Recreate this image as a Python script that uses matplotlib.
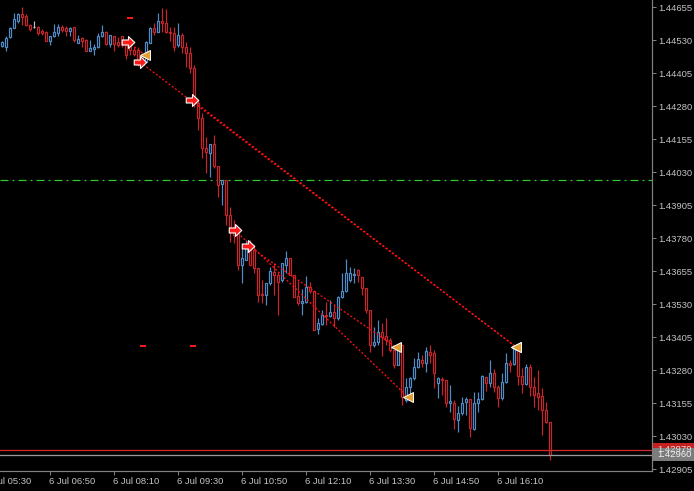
import matplotlib
matplotlib.use('Agg')
import matplotlib.pyplot as plt
from matplotlib.patches import Rectangle
from matplotlib.path import Path
import matplotlib.transforms as mtransforms

plt.rcParams['lines.scale_dashes'] = False

# ---- data (5-minute bars, 6 Jul, 05:50 .. 17:15) ----
open_ = [1.44509, 1.44505, 1.44543, 1.44577, 1.44603, 1.44630, 1.44622, 1.44588, 1.44581, 1.44581,
         1.44566, 1.44562, 1.44528, 1.44547, 1.44558, 1.44581, 1.44577, 1.44566, 1.44581, 1.44520,
         1.44539, 1.44531, 1.44490, 1.44497, 1.44505, 1.44547, 1.44562, 1.44516, 1.44547, 1.44524,
         1.44547, 1.44512, 1.44509, 1.44493, 1.44493, 1.44478, 1.44448, 1.44520, 1.44577, 1.44562,
         1.44603, 1.44596, 1.44562, 1.44558, 1.44512, 1.44550, 1.44505, 1.44482, 1.44425, 1.44293,
         1.44236, 1.44122, 1.44103, 1.44137, 1.44054, 1.43986, 1.44001, 1.43868, 1.43823, 1.43804,
         1.43679, 1.43698, 1.43747, 1.43735, 1.43667, 1.43569, 1.43565, 1.43610, 1.43652, 1.43641,
         1.43622, 1.43679, 1.43705, 1.43641, 1.43561, 1.43535, 1.43538, 1.43595, 1.43580, 1.43436,
         1.43455, 1.43489, 1.43485, 1.43501, 1.43478, 1.43557, 1.43580, 1.43622, 1.43641, 1.43660,
         1.43633, 1.43591, 1.43508, 1.43375, 1.43387, 1.43425, 1.43410, 1.43394, 1.43356, 1.43300,
         1.43375, 1.43167, 1.43216, 1.43250, 1.43292, 1.43319, 1.43307, 1.43349, 1.43345, 1.43231,
         1.43247, 1.43243, 1.43156, 1.43156, 1.43091, 1.43118, 1.43159, 1.43171, 1.43057, 1.43156,
         1.43171, 1.43254, 1.43231, 1.43269, 1.43216, 1.43175, 1.43235, 1.43307, 1.43303, 1.43356,
         1.43258, 1.43228, 1.43292, 1.43216, 1.43194, 1.43182, 1.43129, 1.43084]
high = [1.44528, 1.44547, 1.44581, 1.44634, 1.44634, 1.44656, 1.44630, 1.44592, 1.44603, 1.44584,
        1.44573, 1.44566, 1.44547, 1.44592, 1.44592, 1.44588, 1.44584, 1.44581, 1.44581, 1.44550,
        1.44543, 1.44535, 1.44531, 1.44516, 1.44558, 1.44588, 1.44566, 1.44550, 1.44547, 1.44543,
        1.44547, 1.44516, 1.44516, 1.44505, 1.44505, 1.44482, 1.44528, 1.44581, 1.44596, 1.44634,
        1.44653, 1.44649, 1.44581, 1.44581, 1.44596, 1.44558, 1.44524, 1.44505, 1.44437, 1.44304,
        1.44255, 1.44164, 1.44137, 1.44171, 1.44054, 1.44001, 1.44001, 1.43898, 1.43849, 1.43811,
        1.43739, 1.43773, 1.43773, 1.43754, 1.43667, 1.43622, 1.43610, 1.43671, 1.43686, 1.43652,
        1.43686, 1.43732, 1.43705, 1.43641, 1.43622, 1.43588, 1.43637, 1.43614, 1.43580, 1.43478,
        1.43508, 1.43538, 1.43546, 1.43527, 1.43561, 1.43648, 1.43701, 1.43671, 1.43667, 1.43663,
        1.43633, 1.43591, 1.43508, 1.43444, 1.43470, 1.43459, 1.43478, 1.43402, 1.43356, 1.43375,
        1.43375, 1.43250, 1.43254, 1.43326, 1.43349, 1.43338, 1.43368, 1.43375, 1.43356, 1.43254,
        1.43254, 1.43243, 1.43224, 1.43167, 1.43144, 1.43178, 1.43178, 1.43171, 1.43197, 1.43197,
        1.43262, 1.43254, 1.43319, 1.43284, 1.43224, 1.43269, 1.43345, 1.43319, 1.43368, 1.43356,
        1.43288, 1.43303, 1.43303, 1.43254, 1.43281, 1.43212, 1.43159, 1.43084]
low = [1.44505, 1.44490, 1.44539, 1.44577, 1.44596, 1.44588, 1.44584, 1.44566, 1.44577, 1.44550,
       1.44550, 1.44528, 1.44512, 1.44543, 1.44547, 1.44562, 1.44547, 1.44547, 1.44524, 1.44520,
       1.44505, 1.44490, 1.44490, 1.44475, 1.44501, 1.44543, 1.44512, 1.44505, 1.44490, 1.44505,
       1.44505, 1.44459, 1.44475, 1.44471, 1.44433, 1.44433, 1.44448, 1.44520, 1.44550, 1.44562,
       1.44562, 1.44558, 1.44528, 1.44490, 1.44505, 1.44482, 1.44429, 1.44406, 1.44277, 1.44190,
       1.44084, 1.44027, 1.44012, 1.44046, 1.43936, 1.43906, 1.43830, 1.43766, 1.43762, 1.43660,
       1.43610, 1.43698, 1.43679, 1.43648, 1.43538, 1.43535, 1.43527, 1.43603, 1.43565, 1.43489,
       1.43614, 1.43648, 1.43641, 1.43557, 1.43527, 1.43489, 1.43535, 1.43573, 1.43432, 1.43417,
       1.43451, 1.43451, 1.43482, 1.43444, 1.43470, 1.43554, 1.43576, 1.43614, 1.43610, 1.43614,
       1.43565, 1.43497, 1.43349, 1.43368, 1.43375, 1.43334, 1.43375, 1.43349, 1.43288, 1.43300,
       1.43148, 1.43159, 1.43175, 1.43243, 1.43288, 1.43292, 1.43273, 1.43307, 1.43212, 1.43175,
       1.43186, 1.43140, 1.43122, 1.43057, 1.43046, 1.43110, 1.43110, 1.43027, 1.43053, 1.43122,
       1.43167, 1.43201, 1.43216, 1.43197, 1.43140, 1.43167, 1.43231, 1.43273, 1.43300, 1.43224,
       1.43194, 1.43224, 1.43182, 1.43140, 1.43129, 1.43034, 1.43080, 1.42940]
close = [1.44524, 1.44539, 1.44577, 1.44611, 1.44630, 1.44619, 1.44588, 1.44573, 1.44581, 1.44558,
         1.44558, 1.44528, 1.44547, 1.44562, 1.44581, 1.44569, 1.44566, 1.44577, 1.44531, 1.44535,
         1.44528, 1.44490, 1.44501, 1.44505, 1.44547, 1.44562, 1.44516, 1.44550, 1.44516, 1.44512,
         1.44512, 1.44475, 1.44493, 1.44478, 1.44448, 1.44448, 1.44524, 1.44577, 1.44562, 1.44603,
         1.44596, 1.44562, 1.44558, 1.44505, 1.44550, 1.44505, 1.44482, 1.44425, 1.44304, 1.44236,
         1.44122, 1.44107, 1.44137, 1.44054, 1.43982, 1.44001, 1.43868, 1.43823, 1.43792, 1.43679,
         1.43705, 1.43743, 1.43679, 1.43667, 1.43565, 1.43565, 1.43610, 1.43656, 1.43641, 1.43614,
         1.43686, 1.43705, 1.43641, 1.43557, 1.43535, 1.43542, 1.43595, 1.43580, 1.43432, 1.43459,
         1.43489, 1.43485, 1.43501, 1.43478, 1.43557, 1.43580, 1.43648, 1.43648, 1.43645, 1.43641,
         1.43591, 1.43508, 1.43375, 1.43387, 1.43425, 1.43406, 1.43394, 1.43356, 1.43300, 1.43375,
         1.43178, 1.43216, 1.43250, 1.43292, 1.43322, 1.43307, 1.43353, 1.43338, 1.43269, 1.43250,
         1.43243, 1.43156, 1.43163, 1.43095, 1.43118, 1.43156, 1.43171, 1.43061, 1.43156, 1.43171,
         1.43258, 1.43231, 1.43269, 1.43216, 1.43175, 1.43235, 1.43307, 1.43300, 1.43360, 1.43258,
         1.43228, 1.43292, 1.43216, 1.43186, 1.43178, 1.43129, 1.43084, 1.42960]

time_tick_bars = [-4, 12, 28, 44, 60, 76, 92, 108, 124]
time_tick_labels = ['6 Jul 05:30', '6 Jul 06:50', '6 Jul 08:10', '6 Jul 09:30', '6 Jul 10:50',
                    '6 Jul 12:10', '6 Jul 13:30', '6 Jul 14:50', '6 Jul 16:10']
price_ticks = [1.44655, 1.44530, 1.44405, 1.44280, 1.44155, 1.44030, 1.43905, 1.43780,
               1.43655, 1.43530, 1.43405, 1.43280, 1.43155, 1.43030, 1.42905]

green_level = 1.44000
ask_price = 1.42979
bid_price = 1.42960

entry_bars = [31.5, 34.5, 47.5, 58.25, 61.5]
entry_prices = [1.44524, 1.44448, 1.44304, 1.43811, 1.43751]
exit_bars = [35.75, 128.5, 128.5, 101.5, 98.5]
exit_prices = [1.44475, 1.43368, 1.43368, 1.43178, 1.43368]
mark_bars = [32, 35.25, 47.75]
mark_prices = [1.44615, 1.43372, 1.43372]

# ---- styling ----
W, H, DPI = 694, 491, 100
BG = 'black'
BULL = '#4F8CC8'
BEAR = '#C8262A'
DOJI = '#C0C0C0'
AXC = '#808080'
TXT = '#C4C4C4'
FONT = 'Liberation Sans'
FS = 6.8
PX = 72.0 / DPI

fig = plt.figure(figsize=(W / DPI, H / DPI), dpi=DPI, facecolor=BG)
ax_l, ax_b, ax_w, ax_h = 0, 20.5, 652, 470.5
ax = fig.add_axes([ax_l / W, ax_b / H, ax_w / W, ax_h / H], facecolor=BG)
ymin, ymax = 1.42900, 1.44683
ax.set_xlim(-0.5, 162.5)
ax.set_ylim(ymin, ymax)

# green level line (dash-dot)
ax.axhline(green_level, color='#2ECC2E', lw=1.2 * PX, dashes=(8 * PX, 4 * PX, 2 * PX, 4 * PX), zorder=1)

# candles
for i, (o, h, l, c) in enumerate(zip(open_, high, low, close)):
    col = BULL if c > o else (BEAR if c < o else DOJI)
    ax.vlines(i, l, h, color=col, lw=1.2 * PX, zorder=2)
    if c == o:
        ax.hlines(o, i - 0.3, i + 0.3, color=col, lw=1.2 * PX, zorder=3)
    else:
        ax.add_patch(Rectangle((i - 0.25, min(o, c)), 0.5, abs(c - o), facecolor=BG,
                               edgecolor=col, lw=1.2 * PX, zorder=3))

# ask / bid lines
ax.axhline(ask_price, color='#D42A2A', lw=1.3 * PX, zorder=4)
ax.axhline(bid_price, color='#9A9A9A', lw=1.3 * PX, zorder=4)

# trade lines
for xb, yb, xe, ye in zip(entry_bars, entry_prices, exit_bars, exit_prices):
    ax.plot([xb, xe], [yb, ye], color='#FF1010', lw=1.3 * PX, linestyle=(0, (2 * PX, 2 * PX)), zorder=5)

# entry arrows
arrow = Path([(-1, -0.4), (0.0, -0.4), (0.0, -0.95), (1, 0), (0.0, 0.95), (0.0, 0.4),
              (-1, 0.4), (-1, -0.4)],
             [Path.MOVETO] + [Path.LINETO] * 6 + [Path.CLOSEPOLY])
ax.plot(entry_bars, entry_prices, linestyle='none', marker=arrow, markersize=9,
        markerfacecolor='#FF1A1A', markeredgecolor='white', markeredgewidth=0.8, zorder=7)
# exit triangles
ax.plot(exit_bars, exit_prices, linestyle='none', marker='<', markersize=7,
        markerfacecolor='#E0A030', markeredgecolor='white', markeredgewidth=0.7, zorder=7)
# small markers
ax.plot(mark_bars, mark_prices, linestyle='none', marker='_', markersize=5,
        markeredgecolor='#FF1A1A', markeredgewidth=1.4, zorder=6)

# axes frame
for s in ['left', 'top']:
    ax.spines[s].set_visible(False)
for s in ['right', 'bottom']:
    ax.spines[s].set_color(AXC)
    ax.spines[s].set_linewidth(1.2 * PX)

ax.yaxis.tick_right()
ax.set_yticks(price_ticks)
ax.set_yticklabels([f'{p:.5f}' for p in price_ticks], fontfamily=FONT)
ax.tick_params(axis='y', length=3.5 * PX, width=1 * PX, color=AXC, labelcolor=TXT,
               labelsize=FS, pad=3 * PX)

in_range = [b for b in time_tick_bars if -0.5 <= b <= 162.5]
ax.set_xticks(in_range)
ax.set_xticklabels([])
ax.tick_params(axis='x', length=4 * PX, width=1 * PX, color=AXC)
trans_x = mtransforms.blended_transform_factory(ax.transData, ax.transAxes)
for b, lab in zip(time_tick_bars, time_tick_labels):
    ax.text(b - 0.2, -10.5 / ax_h, lab, transform=trans_x, ha='left', va='center',
            fontsize=FS, color=TXT, fontfamily=FONT, clip_on=False)

# price boxes on the right axis
unit = (ymax - ymin) / ax_h
trans_b = mtransforms.blended_transform_factory(fig.transFigure, ax.transData)
for price, fc, tc in [(ask_price, '#C42020', '#E0E0E0'), (bid_price, '#7C7C7C', '#F2F2F2')]:
    fig.patches.append(Rectangle((653 / W, price - 6.5 * unit), 41 / W, 13 * unit,
                                 transform=trans_b, facecolor=fc, edgecolor='none', zorder=10))
    fig.text(657 / W, price, f'{price:.5f}', transform=trans_b, ha='left', va='center',
             fontsize=FS, color=tc, fontfamily=FONT, zorder=11)

fig.savefig('out.png', dpi=DPI, facecolor=BG)
